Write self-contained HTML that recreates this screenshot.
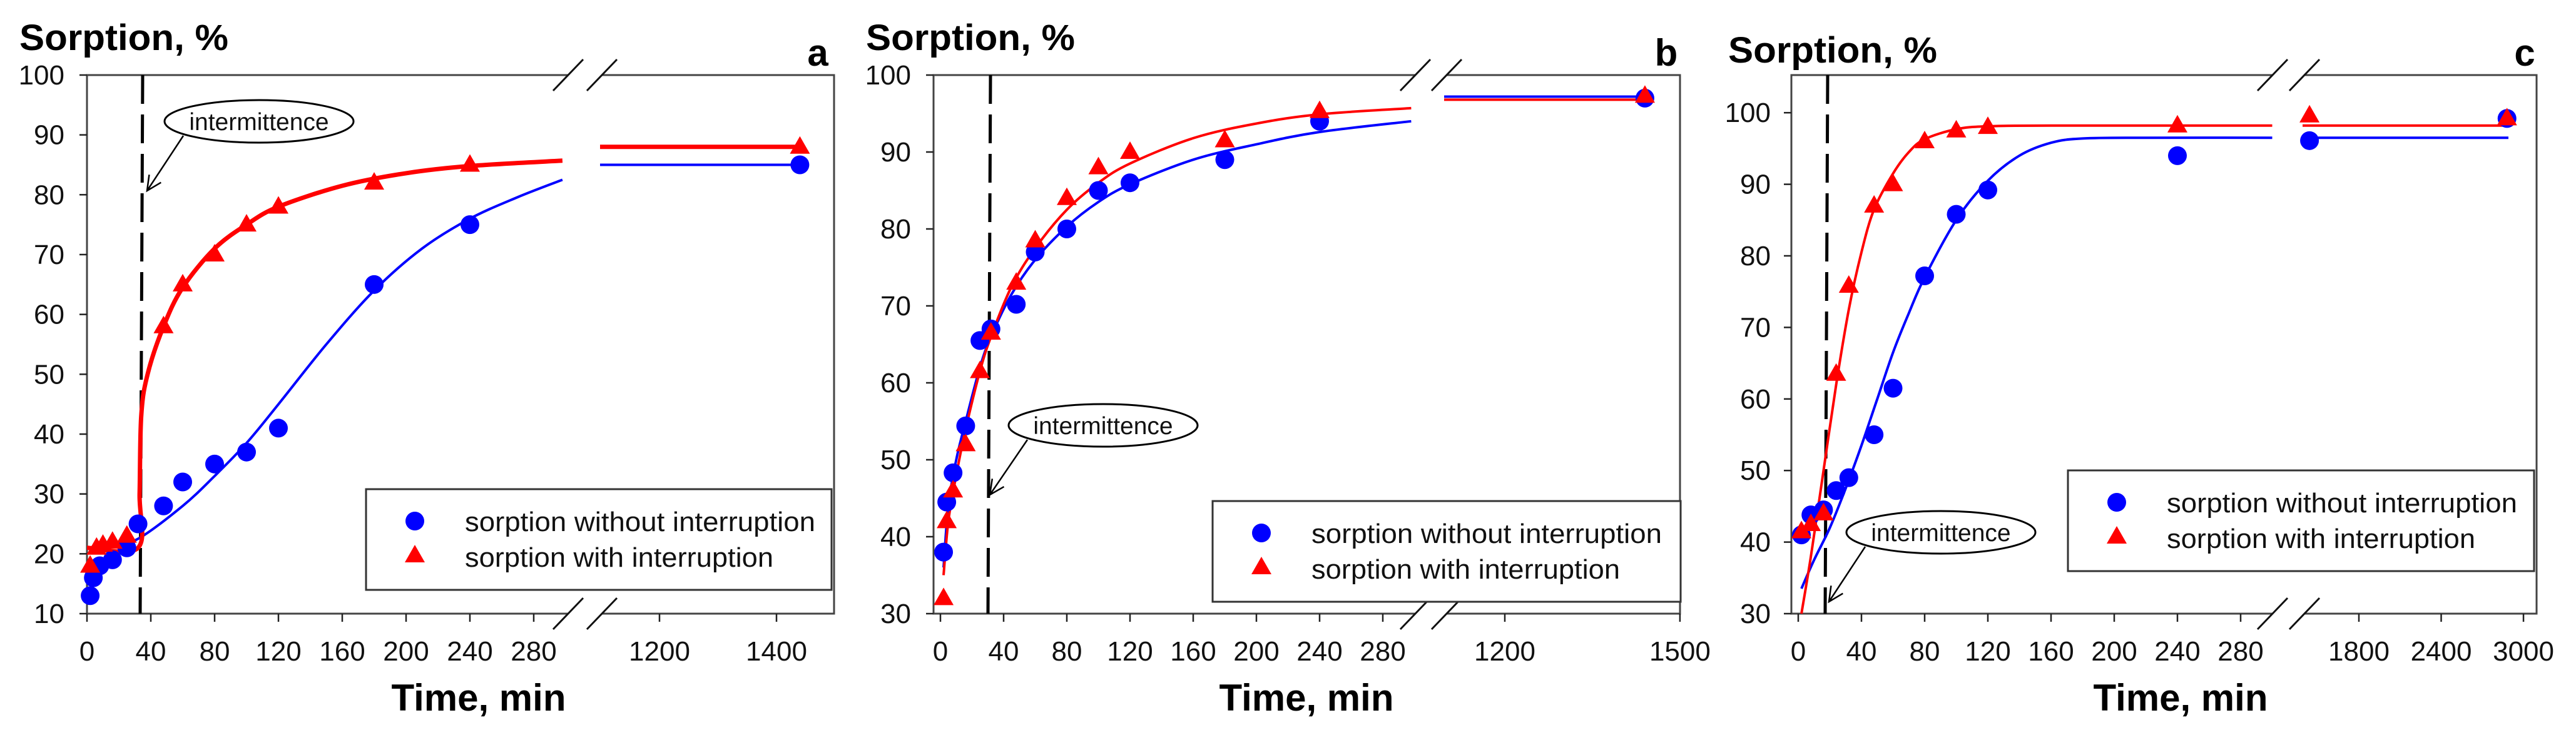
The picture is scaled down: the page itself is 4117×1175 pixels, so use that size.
<!DOCTYPE html>
<html><head><meta charset="utf-8"><style>
html,body{margin:0;padding:0;background:#fff;}
svg{display:block;}
text{font-family:"Liberation Sans",sans-serif;}
</style></head><body>
<svg id="chart" width="4117" height="1175" viewBox="0 0 4117 1175" xmlns="http://www.w3.org/2000/svg"></svg>
<script>
// ---------- Panel a data ----------
const aBlueT = [2,4,8,16,25,32,48,60,80,100,120,180,240,1440];
const aBlueV = [13,16,18,19,21,25,28,32,35,37,41,65,75,85];
const aRedT = [2,6,10,16,25,48,60,80,100,120,180,240,1440];
const aRedV = [18,21,21.5,22,23,58,65,70,75,78,82,85,88];
const aFitBlueT = [16,32,60,80,100,120,150,180,210,240,270,298];
const aFitBlueV = [21.5,22.5,28,33,38.5,45,55,64,71,76,79.6,82.5];
const aFitRedT = [0,32,33,34,38,48,60,80,100,120,160,200,240,298];
const aFitRedV = [21,21,30,43,50,58,64.5,71,75,78,81.5,83.6,84.8,85.7];
const aPlateauBlue = 85, aPlateauRed = 88;
const aXTicks1 = [0,40,80,120,160,200,240,280];
const aXTicks2 = [1200,1400];
const aYTicks = [10,20,30,40,50,60,70,80,90,100];

// ---------- Panel b data ----------
const bBlueT = [2,4,8,16,25,32,48,60,80,100,120,180,240,1440];
const bBlueV = [38,44.5,48.3,54.4,65.5,67,70.2,77,80,85,86,89,94,97];
const bRedT = [2,4,8,16,25,32,48,60,80,100,120,180,240,1440];
const bRedV = [32,42,46,52,61.5,66.5,73,78.5,84,88,90,91.5,95.3,97.3];
const bFitBlueT = [2,5,10,16,25,32,45,60,80,100,120,160,200,240,298];
const bFitBlueV = [36,44,50,55,62,66,71.5,76,80.3,83.5,85.8,89,91,92.6,94];
const bFitRedT = [2,5,10,16,25,32,45,60,80,100,120,160,200,240,298];
const bFitRedV = [35,42,48,54,61.5,66,72.5,77.5,82.5,86,88.5,91.8,93.7,94.9,95.7];
const bPlateauBlue = 97.2, bPlateauRed = 96.8;
const bXTicks1 = [0,40,80,120,160,200,240,280];
const bXTicks2 = [1200,1500];
const bYTicks = [30,40,50,60,70,80,90,100];

// ---------- Panel c data ----------
const cBlueT = [2,8,16,24,32,48,60,80,100,120,240,1440,2880];
const cBlueV = [41,43.8,44.5,47.2,49,55,61.5,77.2,85.8,89.2,94,96.1,99.2];
const cRedT = [2,8,16,24,32,48,60,80,100,120,240,1440,2880];
const cRedV = [41.5,42.5,44,63.5,75.8,87,90,96,97.5,98,98.2,99.6,99.2];
const cFitBlueT = [2,10,20,30,40,50,60,70,80,100,120,140,160,180,220,300];
const cFitBlueV = [33.5,37.5,42,47.5,53.5,60,66.5,72,77,85,90.5,94,95.8,96.4,96.5,96.5];
const cFitRedT = [2,8,16,24,32,40,48,60,70,80,100,120,160,300];
const cFitRedV = [30,38,50,62,72.5,80.5,86.5,91.5,94.5,96.3,97.7,98.1,98.2,98.2];
const cPlateauBlue = 96.5, cPlateauRed = 98.2;
const cXTicks1 = [0,40,80,120,160,200,240,280];
const cXTicks2 = [1800,2400,3000];
const cYTicks = [30,40,50,60,70,80,90,100];

const NS = "http://www.w3.org/2000/svg";
const svg = document.getElementById('chart');
function mk(tag, attrs, parent){
  const e = document.createElementNS(NS, tag);
  for (const k in attrs) e.setAttribute(k, attrs[k]);
  (parent||svg).appendChild(e);
  return e;
}
function smooth(pts){
  let d = "M"+pts[0][0].toFixed(1)+","+pts[0][1].toFixed(1);
  for (let i=0;i<pts.length-1;i++){
    const p0=pts[Math.max(0,i-1)], p1=pts[i], p2=pts[i+1], p3=pts[Math.min(pts.length-1,i+2)];
    const c1=[p1[0]+(p2[0]-p0[0])/6, p1[1]+(p2[1]-p0[1])/6];
    const c2=[p2[0]-(p3[0]-p1[0])/6, p2[1]-(p3[1]-p1[1])/6];
    d += " C"+c1[0].toFixed(1)+","+c1[1].toFixed(1)+" "+c2[0].toFixed(1)+","+c2[1].toFixed(1)+" "+p2[0].toFixed(1)+","+p2[1].toFixed(1);
  }
  return d;
}

function panel(P){
  const g = mk('g', {});
  
  
  const X = t => t <= 300 ? P.x0 + t*P.k1 : P.xr + (t - P.tr)*P.k2;
  const Y = v => P.yb - (v - P.vmin)*P.ky;
  const L=P.left, R=P.right, T=120, B=981;
  const fr = mk('path', {d:`M${P.gapL},${T} H${L} V${B} H${P.gapL} M${P.gapR},${B} H${R} V${T} H${P.gapR}`, fill:'none', stroke:'#444', 'stroke-width':3}, g);
  
  
  [P.gapL, P.gapR].forEach(x => {
    [T,B].forEach(y => {
      const s = mk('line', {x1:x-24, y1:y+25, x2:x+24, y2:y-25, stroke:'#111', 'stroke-width':3}, g);
      
      
    });
  });
  P.yTicks.forEach(v => {
    const y = Y(v);
    mk('line', {x1:L-12, y1:y, x2:L, y2:y, stroke:'#222', 'stroke-width':2.5}, g);
    const t = mk('text', {x:P.ylabX, y:y+15, 'font-size':44, 'text-anchor':'end', fill:'#111'}, g);
    t.textContent = v;
    
    
  });
  P.xTicks1.concat(P.xTicks2).forEach(v => {
    const x = X(v);
    mk('line', {x1:x, y1:B, x2:x, y2:B+13, stroke:'#222', 'stroke-width':2.5}, g);
    const t = mk('text', {x:x, y:1056, 'font-size':44, 'text-anchor':'middle', fill:'#111'}, g);
    t.textContent = v;
    
    
  });
  const yt = mk('text', {x:P.titleX, y:P.titleY, 'font-size':58, 'font-weight':'bold', textLength:334, lengthAdjust:'spacingAndGlyphs', fill:'#000'}, g);
  yt.textContent = 'Sorption, %';
  
  
  const xt = mk('text', {x:P.xTitleX, y:1136, 'font-size':60, 'font-weight':'bold', 'text-anchor':'middle', fill:'#000'}, g);
  xt.textContent = 'Time, min';
  
  
  const pl = mk('text', {x:P.letterX, y:P.letterY, 'font-size':60, 'font-weight':'bold', 'text-anchor':'middle', fill:'#000'}, g);
  pl.textContent = P.id;
  
  
  const dl = mk('line', {x1:P.dashX, y1:T, x2:P.dashX-4, y2:B, stroke:'#000', 'stroke-width':5, 'stroke-dasharray':'46 17'}, g);
  
  
  const fb = mk('path', {d:smooth(P.fbT.map((t,i)=>[X(t),Y(P.fbV[i])])), fill:'none', stroke:'#0000ff', 'stroke-width':4}, g);
  
  
  const fr2 = mk('path', {d:smooth(P.frT.map((t,i)=>[X(t),Y(P.frV[i])])), fill:'none', stroke:'#ff0000', 'stroke-width':P.redW}, g);
  
  
  const pb = mk('line', {x1:P.plStart, y1:Y(P.pb), x2:P.plEnd, y2:Y(P.pb), stroke:'#0000ff', 'stroke-width':4}, g);
  
  
  const pr = mk('line', {x1:P.plStart, y1:Y(P.pr), x2:P.plEnd, y2:Y(P.pr), stroke:'#ff0000', 'stroke-width':P.redW}, g);
  
  
  P.bT.forEach((t,i) => {
    const c = mk('circle', {cx:X(t), cy:Y(P.bV[i]), r:15, fill:'#0000ff'}, g);
    
    
  });
  P.rT.forEach((t,i) => {
    const x=X(t), y=Y(P.rV[i]);
    const p = mk('polygon', {points:`${x},${y-17} ${x-16},${y+11} ${x+16},${y+11}`, fill:'#ff0000'}, g);
    
    
  });
  const ell = mk('ellipse', {cx:P.ellX, cy:P.ellY, rx:151, ry:34, fill:'#fff', stroke:'#000', 'stroke-width':3}, g);
  
  
  const et = mk('text', {x:P.ellX, y:P.ellY+14, 'font-size':39, 'text-anchor':'middle', fill:'#111'}, g);
  et.textContent = 'intermittence';
  
  
  const ax1=P.ellX-121, ay1=P.ellY+23, ax2=P.arrowX, ay2=P.ellY+111;
  const ang = Math.atan2(ay2-ay1, ax2-ax1);
  const h1=[ax2-26*Math.cos(ang-0.45), ay2-26*Math.sin(ang-0.45)], h2=[ax2-26*Math.cos(ang+0.45), ay2-26*Math.sin(ang+0.45)];
  const ar = mk('path', {d:`M${ax1},${ay1} L${ax2},${ay2} M${h1[0]},${h1[1]} L${ax2},${ay2} L${h2[0]},${h2[1]}`, fill:'none', stroke:'#000', 'stroke-width':2.5}, g);
  
  
  const lg = mk('g', {}, g);
  
  
  mk('rect', {x:P.lgX, y:P.lgY, width:P.lgW, height:161, fill:'#fff', stroke:'#333', 'stroke-width':3}, lg);
  const mx = P.lgX+78;
  const lc = mk('circle', {cx:mx, cy:P.lgY+51, r:15, fill:'#0000ff'}, lg);
  
  
  const lt = mk('polygon', {points:`${mx},${P.lgY+89} ${mx-16},${P.lgY+117} ${mx+16},${P.lgY+117}`, fill:'#ff0000'}, lg);
  
  
  const l1 = mk('text', {x:P.lgX+158, y:P.lgY+67, 'font-size':44, textLength:560, lengthAdjust:'spacingAndGlyphs', fill:'#111'}, lg);
  l1.textContent = 'sorption without interruption';
  
  
  const l2 = mk('text', {x:P.lgX+158, y:P.lgY+124, 'font-size':44, textLength:493, lengthAdjust:'spacingAndGlyphs', fill:'#111'}, lg);
  l2.textContent = 'sorption with interruption';
  
  
}

panel({id:'a', left:139, right:1333, x0:139, k1:2.55, xr:1054, tr:1200, k2:0.935,
  yb:981, vmin:10, ky:9.567, gapL:908, gapR:962, yTicks:aYTicks, xTicks1:aXTicks1, xTicks2:aXTicks2,
  ylabX:103, titleX:31, titleY:80, xTitleX:765, letterX:1307, letterY:105, dashX:228, redW:7,
  bT:aBlueT, bV:aBlueV, rT:aRedT, rV:aRedV, fbT:aFitBlueT, fbV:aFitBlueV, frT:aFitRedT, frV:aFitRedV,
  pb:aPlateauBlue, pr:aPlateauRed, plStart:959, plEnd:1276, ellX:414, ellY:194, arrowX:235,
  lgX:585, lgY:782, lgW:744});
panel({id:'b', left:1492, right:2685, x0:1503, k1:2.525, xr:2405, tr:1200, k2:0.933,
  yb:981, vmin:30, ky:12.3, gapL:2262, gapR:2312, yTicks:bYTicks, xTicks1:bXTicks1, xTicks2:bXTicks2,
  ylabX:1456, titleX:1384, titleY:80, xTitleX:2088, letterX:2663, letterY:105, dashX:1583, redW:4,
  bT:bBlueT, bV:bBlueV, rT:bRedT, rV:bRedV, fbT:bFitBlueT, fbV:bFitBlueV, frT:bFitRedT, frV:bFitRedV,
  pb:bPlateauBlue, pr:bPlateauRed, plStart:2308, plEnd:2643, ellX:1763, ellY:680, arrowX:1582,
  lgX:1938, lgY:801, lgW:748});
panel({id:'c', left:2863, right:4054, x0:2874, k1:2.525, xr:3770, tr:1800, k2:0.2192,
  yb:981, vmin:30, ky:11.44, gapL:3632, gapR:3683, yTicks:cYTicks, xTicks1:cXTicks1, xTicks2:cXTicks2,
  ylabX:2830, titleX:2762, titleY:100, xTitleX:3485, letterX:4035, letterY:105, dashX:2921, redW:4,
  bT:cBlueT, bV:cBlueV, rT:cRedT, rV:cRedV, fbT:cFitBlueT, fbV:cFitBlueV, frT:cFitRedT, frV:cFitRedV,
  pb:cPlateauBlue, pr:cPlateauRed, plStart:3680, plEnd:4009, ellX:3102, ellY:851, arrowX:2923,
  lgX:3305, lgY:752, lgW:745});
</script>
</body></html>
